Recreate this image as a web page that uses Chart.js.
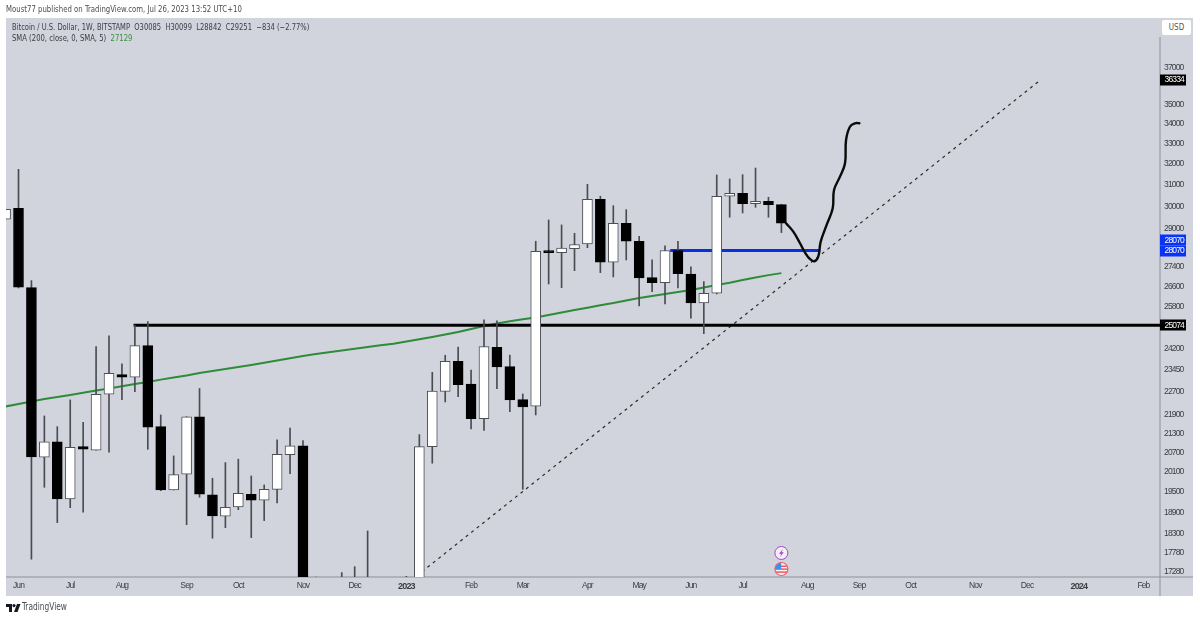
<!DOCTYPE html>
<html>
<head>
<meta charset="utf-8">
<title>BTCUSD weekly</title>
<script src="https://cdn.jsdelivr.net/npm/chart.js@4/dist/chart.umd.min.js"></script>
<style>
  html, body { margin: 0; padding: 0; background: #fff; }
  #wrap { position: relative; width: 1200px; height: 619px; overflow: hidden; }
  canvas { position: absolute; left: 0; top: 0; }
  .txt { position: absolute; white-space: pre; font-family: "DejaVu Sans Condensed", "DejaVu Sans", sans-serif; color: #3b3d44; line-height: 12px; transform-origin: 0 50%; }
  #usd { position: absolute; left: 1162px; top: 20px; width: 29px; height: 15px; background: #fff; border-radius: 2px; text-align: center; font: 8px/15px "DejaVu Sans Condensed", "DejaVu Sans", sans-serif; color: #555; }
</style>
</head>
<body>
<div id="wrap">
  <canvas id="c" width="1200" height="619"></canvas>
  <div class="txt" style="left:6px;top:3px;font-size:9px;color:#4a4c52;transform:scaleX(.858)">Moust77 published on TradingView.com, Jul 26, 2023 13:52 UTC+10</div>
  <div class="txt" style="left:12px;top:21px;font-size:9px;transform:scaleX(.834)">Bitcoin / U.S. Dollar, 1W, BITSTAMP  O30085  H30099  L28842  C29251  −834 (−2.77%)</div>
  <div class="txt" style="left:12px;top:32px;font-size:9px;transform:scaleX(.846)">SMA (200, close, 0, SMA, 5)  <span style="color:#3c8f45">27129</span></div>
  <div id="usd">USD</div>
  <svg style="position:absolute;left:6px;top:604px" width="15" height="8" viewBox="0 0 15 8">
    <path d="M0 0H6V8H3V3H0Z" fill="#131722"/><circle cx="8" cy="1.6" r="1.6" fill="#131722"/><path d="M11 0H14.5L11.5 8H8Z" fill="#131722"/>
  </svg>
  <div class="txt" style="left:22px;top:601px;font-size:10px;color:#4a4c52;transform:scaleX(.83)">TradingView</div>
</div>
<script>
// Weekly candles; the first entry sits one week before the Jun 2022 tick.
const firstWeek = -1;
const opens  = [29429,29919,26540,20548,21028,19295,20879,20765,22597,23275,23185,24316,21518,19556,20027,21836,19411,18797,19062,19431,19257,19577,20629,20901,16300,16280,16440,17130,16970,16780,16830,16540,16950,20879,22697,23751,22942,21781,24257,23558,22414,22191,28065,27985,28149,28351,30330,27580,29251,28467,26946,26743,28070,27095,25936,26317,30467,30604,30129,30239,30085];
const highs  = [29873,31731,26824,21869,21518,22404,21663,24279,24676,23654,25074,25215,21902,20589,21846,22794,19907,20382,20487,19976,19706,21092,21476,21070,17150,16700,17265,17420,18384,16950,16900,17168,21261,23359,23967,24268,23439,25280,25242,23977,22607,28467,29397,29175,28812,31023,30467,30037,29855,28683,27675,28265,28467,27393,26784,31462,31273,31476,31792,30421,30099];
const lows   = [29429,26528,17617,19637,18617,19042,18910,20765,20703,22414,22685,20796,19535,19556,18560,19344,18184,18476,18984,18200,18673,19178,20045,15700,15800,15500,16000,16750,16500,16250,16400,16330,16900,20363,22336,22516,21443,21400,22787,22010,19577,21902,26690,26540,27230,28191,27149,26974,27675,25818,26380,25897,26528,25344,24761,26290,29518,29708,29964,29518,28842];
const closes = [29873,26556,20558,21028,19295,20860,20796,22597,23324,23185,24316,21499,19556,20015,21836,19431,18806,19053,19460,19257,19577,20641,20901,16300,16280,16440,17130,16970,16780,16830,16540,16950,20879,22708,23751,22927,21781,24279,23547,22404,22167,28039,27985,28179,28321,30330,27580,29251,28467,26933,26743,28070,27108,25936,26317,30467,30604,30129,30239,30085,29251];
const sma200 = [22184,22269,22353,22438,22505,22573,22647,22725,22794,22871,22951,23021,23101,23178,23247,23335,23404,23475,23547,23618,23697,23780,23859,23942,24014,24078,24139,24205,24268,24331,24383,24470,24555,24639,24732,24824,24936,25051,25146,25230,25307,25376,25470,25566,25661,25751,25846,25936,26034,26132,26211,26290,26368,26447,26548,26649,26741,26851,26954,27047,27129];

const weeks = opens.map((_, i) => firstWeek + i);

// Horizontal levels and the trend line, each as [week, price].
const supportLevel = [[8.9, 25074], [88.3, 25074]];
const retestLevel  = [[50.4, 28070], [62, 28070]];
const trendLine    = [[31.2, 17288], [79.08, 36334]];
// Hand-drawn projection after the last candle.
const projection = [[59.36,29251],[59.92,28881],[60.44,28381],[60.83,27980],[61.22,27704],[61.55,27620],[61.85,27813],[62.04,28450],[62.5,29175],[62.97,29919],[63.07,30755],[63.53,31382],[63.92,32020],[64,33165],[64.3,33838],[64.7,34014],[65.03,34014]];

const priceTicks = [37000,35000,34000,33000,32000,31000,30000,29000,27400,26600,25800,24200,23450,22700,21900,21300,20700,20100,19500,18900,18300,17780,17280];
const monthWeeks  = [0,4,8,13,17,22,26,30,35,39,44,48,52,56,61,65,69,74,78,82,87];
const monthLabels = ['Jun','Jul','Aug','Sep','Oct','Nov','Dec','2023','Feb','Mar','Apr','May','Jun','Jul','Aug','Sep','Oct','Nov','Dec','2024','Feb'];
const priceTags = [
  { value: 36334, text: '36334', bg: '#000000' },
  { value: 28070, text: '28070', bg: '#0a33f2', dy: -10.5 },
  { value: 28070, text: '28070', bg: '#0a33f2' },
  { value: 25074, text: '25074', bg: '#000000' }
];

const PANEL = '#d1d4dc';
const AXIS_FONT = '"Liberation Sans", sans-serif';
const pts = rows => rows.map(([x, y]) => ({ x, y }));

// Panel background and axis rules go under everything else.
const panelPlugin = {
  id: 'panel',
  beforeDraw(chart) {
    const { ctx, chartArea: a } = chart;
    // Axis text is set tight, as the price column is narrow.
    ctx.letterSpacing = '-0.85px';
    ctx.save();
    ctx.fillStyle = '#ffffff';
    ctx.fillRect(0, 0, chart.width, chart.height);
    ctx.fillStyle = PANEL;
    ctx.fillRect(a.left, a.top, 1193 - a.left, 596 - a.top);
    ctx.fillStyle = '#8d9098';
    ctx.fillRect(a.right - 0.5, a.top + 19, 1, 596 - a.top - 19);
    ctx.fillRect(a.left, a.bottom - 0.5, 1193 - a.left, 1);
    ctx.restore();
  },
  afterDraw(chart) {
    const { ctx, chartArea: a, scales } = chart;
    ctx.save();
    // Last-value tags on the price axis.
    ctx.font = '8.5px ' + AXIS_FONT;
    ctx.textAlign = 'left';
    ctx.textBaseline = 'middle';
    for (const tag of priceTags) {
      const y = scales.y.getPixelForValue(tag.value) + (tag.dy || 0);
      ctx.fillStyle = tag.bg;
      ctx.fillRect(a.right, Math.round(y) - 5.5, 26, 11);
      ctx.fillStyle = '#ffffff';
      ctx.fillText(tag.text, a.right + 4.5, y + 0.5);
    }
    // Event markers on the time axis.
    const ex = scales.x.getPixelForValue(59);
    const ey1 = a.bottom - 24, ey2 = a.bottom - 8;
    ctx.lineWidth = 1;
    ctx.beginPath(); ctx.arc(ex, ey1, 6.5, 0, Math.PI * 2);
    ctx.fillStyle = '#f3eef6'; ctx.fill(); ctx.strokeStyle = '#a347c9'; ctx.stroke();
    ctx.fillStyle = '#a347c9';
    ctx.beginPath();
    ctx.moveTo(ex + 1.6, ey1 - 4); ctx.lineTo(ex - 2.4, ey1 + 0.8); ctx.lineTo(ex - 0.2, ey1 + 0.8);
    ctx.lineTo(ex - 1.4, ey1 + 4); ctx.lineTo(ex + 2.4, ey1 - 0.8); ctx.lineTo(ex + 0.2, ey1 - 0.8);
    ctx.closePath(); ctx.fill();
    ctx.save();
    ctx.beginPath(); ctx.arc(ex, ey2, 6.5, 0, Math.PI * 2); ctx.clip();
    ctx.fillStyle = '#f4f4f6'; ctx.fillRect(ex - 7, ey2 - 7, 14, 14);
    ctx.fillStyle = '#e8505f';
    ctx.fillRect(ex - 7, ey2 - 3.5, 14, 1.4); ctx.fillRect(ex - 7, ey2 - 0.6, 14, 1.4); ctx.fillRect(ex - 7, ey2 + 2.4, 14, 1.4);
    ctx.fillStyle = '#3f8fe8'; ctx.fillRect(ex - 7, ey2 - 7, 6.8, 7);
    ctx.restore();
    ctx.beginPath(); ctx.arc(ex, ey2, 6.5, 0, Math.PI * 2);
    ctx.strokeStyle = '#f0606e'; ctx.lineWidth = 1.2; ctx.stroke();
    ctx.restore();
  }
};

const bodyColor = (i) => closes[i] >= opens[i] ? '#ffffff' : '#000000';
const edgeColor = (i) => closes[i] >= opens[i] ? '#4d4f55' : '#000000';

new Chart(document.getElementById('c'), {
  type: 'bar',
  plugins: [panelPlugin],
  data: {
    datasets: [
      {
        label: 'Bodies', order: 1, grouped: false, barThickness: 10,
        data: weeks.map((x, i) => ({ x, y: [opens[i], closes[i]] })),
        backgroundColor: weeks.map((_, i) => bodyColor(i)),
        borderColor: weeks.map((_, i) => edgeColor(i)),
        borderWidth: 1, borderSkipped: false
      },
      {
        label: 'Wicks', order: 2, grouped: false, barThickness: 1,
        data: weeks.map((x, i) => ({ x, y: [lows[i], highs[i]] })),
        backgroundColor: '#4a4c52', borderWidth: 0
      },
      { type: 'line', label: 'Projection', order: 3, data: pts(projection), borderColor: '#0b0b0b', borderWidth: 2.4, tension: 0.4, pointRadius: 0, borderCapStyle: 'round' },
      { type: 'line', label: 'Retest level', order: 4, data: pts(retestLevel), borderColor: '#0a2fe0', borderWidth: 3, pointRadius: 0 },
      { type: 'line', label: 'Support level', order: 5, data: pts(supportLevel), borderColor: '#000000', borderWidth: 3, pointRadius: 0 },
      { type: 'line', label: 'Trend line', order: 6, data: pts(trendLine), borderColor: '#2a2a2a', borderWidth: 1.2, borderDash: [3, 4], pointRadius: 0 },
      { type: 'line', label: 'SMA 200', order: 7, data: weeks.map((x, i) => ({ x, y: sma200[i] })), borderColor: '#2e8b3a', borderWidth: 2, pointRadius: 0, tension: 0 }
    ]
  },
  options: {
    responsive: false,
    animation: false,
    layout: { padding: { left: 6, top: 18, right: 7, bottom: 23 } },
    plugins: { legend: { display: false }, tooltip: { enabled: false }, title: { display: false } },
    scales: {
      x: {
        type: 'linear', min: -0.967, max: 88.28, offset: false,
        grid: { display: false, drawTicks: false }, border: { display: false },
        afterBuildTicks(s) { s.ticks = monthWeeks.map(value => ({ value })); },
        afterFit(s) { s.height = 19; },
        ticks: {
          autoSkip: false, maxRotation: 0, padding: 4,
          font: c => ({ family: AXIS_FONT, size: /^\d/.test(c.tick ? c.tick.label : '') ? 9 : 8.5, weight: /^\d/.test(c.tick ? c.tick.label : '') ? 'bold' : 'normal' }),
          color: '#3b3d44',
          callback: (v) => monthLabels[monthWeeks.indexOf(v)]
        }
      },
      y: {
        type: 'logarithmic', position: 'right', min: 17150, max: 39871,
        grid: { display: false, drawTicks: false }, border: { display: false },
        afterBuildTicks(s) { s.ticks = priceTicks.map(value => ({ value })); },
        afterFit(s) { s.width = 33; },
        ticks: {
          autoSkip: false, padding: 4, align: 'center', crossAlign: 'near',
          font: { family: AXIS_FONT, size: 8.5 }, color: '#3b3d44',
          callback: v => String(v)
        }
      }
    }
  }
});
</script>
</body>
</html>
